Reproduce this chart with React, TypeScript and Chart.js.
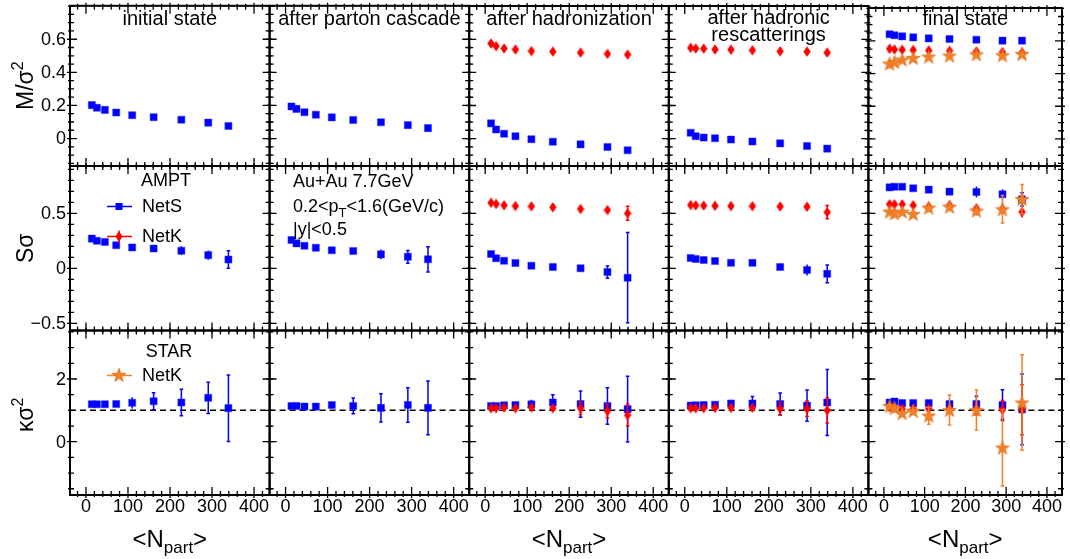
import React, { useEffect, useRef } from "react";
import { Chart, registerables } from "chart.js";

Chart.register(...registerables);

// ---------------- data ----------------
const npart = [14, 26, 45, 72, 110, 161, 227, 291, 339];
const stageTitles = [
  ["initial state"],
  ["after parton cascade"],
  ["after hadronization"],
  ["after hadronic", "rescatterings"],
  ["final state"],
];

// M/sigma^2
const mNetS = [
  [0.202, 0.186, 0.173, 0.157, 0.141, 0.129, 0.114, 0.096, 0.076],
  [0.194, 0.179, 0.159, 0.144, 0.128, 0.112, 0.098, 0.081, 0.063],
  [0.092, 0.055, 0.029, 0.014, -0.004, -0.019, -0.035, -0.051, -0.071],
  [0.035, 0.014, 0.006, 0.002, -0.006, -0.018, -0.029, -0.045, -0.061],
  [0.641, 0.635, 0.628, 0.622, 0.616, 0.612, 0.608, 0.602, 0.602],
];
const mNetSErr = [
  [0.002, 0.002, 0.002, 0.003, 0.003, 0.004, 0.005, 0.006, 0.008],
  [0.002, 0.002, 0.002, 0.003, 0.003, 0.004, 0.005, 0.006, 0.008],
  [0.002, 0.002, 0.002, 0.003, 0.003, 0.004, 0.005, 0.006, 0.008],
  [0.002, 0.002, 0.002, 0.003, 0.003, 0.004, 0.005, 0.006, 0.008],
  [0.002, 0.002, 0.002, 0.003, 0.003, 0.004, 0.005, 0.008, 0.014],
];
const mNetK = [
  null,
  null,
  [0.575, 0.559, 0.545, 0.539, 0.529, 0.526, 0.52, 0.512, 0.508],
  [0.549, 0.545, 0.544, 0.539, 0.538, 0.534, 0.528, 0.526, 0.52],
  [0.552, 0.548, 0.546, 0.545, 0.542, 0.54, 0.536, 0.532, 0.53],
];
const mNetKErr = [
  null,
  null,
  [0.006, 0.006, 0.006, 0.006, 0.006, 0.006, 0.007, 0.007, 0.008],
  [0.006, 0.006, 0.006, 0.006, 0.006, 0.006, 0.007, 0.007, 0.008],
  [0.008, 0.008, 0.008, 0.008, 0.008, 0.008, 0.009, 0.01, 0.012],
];
const mStarNetK = [0.461, 0.471, 0.486, 0.496, 0.504, 0.51, 0.518, 0.512, 0.52];
const mStarNetKErr = [0.004, 0.004, 0.005, 0.006, 0.007, 0.008, 0.01, 0.012, 0.014];

// S*sigma
const sNetS = [
  [0.27, 0.25, 0.24, 0.21, 0.19, 0.18, 0.16, 0.12, 0.08],
  [0.257, 0.227, 0.205, 0.187, 0.164, 0.157, 0.127, 0.105, 0.082],
  [0.13, 0.091, 0.069, 0.048, 0.024, 0.012, 0.0, -0.034, -0.085],
  [0.094, 0.085, 0.075, 0.066, 0.05, 0.05, 0.012, -0.015, -0.05],
  [0.736, 0.742, 0.742, 0.727, 0.715, 0.697, 0.694, 0.673, 0.627],
];
const sNetSErr = [
  [0.005, 0.006, 0.008, 0.01, 0.012, 0.016, 0.04, 0.042, 0.08],
  [0.005, 0.006, 0.008, 0.01, 0.012, 0.016, 0.044, 0.058, 0.115],
  [0.005, 0.006, 0.008, 0.01, 0.012, 0.02, 0.03, 0.056, 0.41],
  [0.005, 0.006, 0.008, 0.01, 0.012, 0.02, 0.03, 0.05, 0.08],
  [0.005, 0.006, 0.008, 0.01, 0.012, 0.02, 0.05, 0.045, 0.06],
];
const sNetK = [
  null,
  null,
  [0.596, 0.585, 0.573, 0.566, 0.564, 0.555, 0.539, 0.53, 0.5],
  [0.575, 0.572, 0.57, 0.568, 0.566, 0.565, 0.562, 0.56, 0.51],
  [0.582, 0.582, 0.582, 0.573, 0.56, 0.573, 0.545, 0.539, 0.512],
];
const sNetKErr = [
  null,
  null,
  [0.005, 0.006, 0.007, 0.008, 0.01, 0.012, 0.015, 0.02, 0.064],
  [0.005, 0.006, 0.007, 0.008, 0.01, 0.012, 0.015, 0.02, 0.06],
  [0.005, 0.006, 0.007, 0.008, 0.01, 0.012, 0.015, 0.02, 0.05],
];
const sStarNetK = [0.515, 0.5, 0.515, 0.494, 0.551, 0.56, 0.524, 0.536, 0.63];
const sStarNetKErr = [0.01, 0.01, 0.015, 0.02, 0.025, 0.035, 0.045, 0.125, 0.133];

// kappa*sigma^2
const kNetS = [
  [1.195, 1.195, 1.195, 1.2, 1.24, 1.29, 1.25, 1.4, 1.07],
  [1.14, 1.14, 1.12, 1.12, 1.17, 1.14, 1.08, 1.17, 1.08],
  [1.14, 1.14, 1.16, 1.17, 1.19, 1.25, 1.2, 1.14, 1.04],
  [1.15, 1.16, 1.17, 1.18, 1.22, 1.22, 1.2, 1.15, 1.25],
  [1.25, 1.28, 1.23, 1.23, 1.23, 1.2, 1.2, 1.17, 1.03],
];
const kNetSErr = [
  [0.02, 0.03, 0.04, 0.06, 0.18, 0.27, 0.42, 0.5, 1.06],
  [0.02, 0.03, 0.04, 0.06, 0.1, 0.25, 0.45, 0.55, 0.86],
  [0.02, 0.03, 0.04, 0.06, 0.15, 0.25, 0.42, 0.58, 1.05],
  [0.02, 0.03, 0.04, 0.06, 0.12, 0.22, 0.35, 0.5, 1.05],
  [0.02, 0.03, 0.04, 0.06, 0.1, 0.15, 0.25, 0.49, 1.13],
];
const kNetK = [
  null,
  null,
  [1.07, 1.07, 1.09, 1.07, 1.09, 1.07, 1.07, 0.98, 0.85],
  [1.07, 1.07, 1.07, 1.08, 1.08, 1.08, 1.05, 1.05, 1.0],
  [1.1, 1.1, 1.05, 1.05, 1.05, 1.05, 1.05, 1.02, 1.02],
];
const kNetKErr = [
  null,
  null,
  [0.02, 0.03, 0.04, 0.05, 0.07, 0.1, 0.2, 0.22, 0.35],
  [0.02, 0.03, 0.04, 0.05, 0.07, 0.1, 0.2, 0.25, 0.4],
  [0.02, 0.03, 0.04, 0.05, 0.07, 0.1, 0.2, 0.3, 0.8],
];
const kStarNetK = [1.14, 1.07, 0.91, 0.98, 0.83, 1.01, 1.01, -0.19, 1.25];
const kStarNetKErr = [0.05, 0.06, 0.1, 0.1, 0.27, 0.48, 0.64, 1.22, 1.52];

// tick labels
const xTickValues = [0, 100, 200, 300, 400];
const xTickLabels = ["0", "100", "200", "300", "400"];
const yTickValues = [[0, 0.2, 0.4, 0.6], [-0.5, 0, 0.5], [0, 2]];
const yTickLabels = [["0", "0.2", "0.4", "0.6"], ["\u22120.5", "0", "0.5"], ["0", "2"]];

// ---------------- layout / style ----------------
const W = 1070;
const H = 559;
const COLS = [70, 269.6, 469.2, 668.8, 868.4, 1068];
const ROWS = [1.5, 166, 330.5, 495];
const X_RANGE = [-38, 437];
const Y_RANGES = [
  [-0.166, 0.802],
  [-0.565, 0.93],
  [-1.7, 3.547],
];
const Y_MINOR = [0.05, 0.1, 0.5];
const X_MINOR = 20;
const FONT = '"Liberation Sans", Arial, Helvetica, sans-serif';
const BLUE = "#0000ff";
const RED = "#ff0000";
const ORANGE = "rgb(240,128,40)";

const rowsData = [
  { netS: mNetS, netSErr: mNetSErr, netK: mNetK, netKErr: mNetKErr, star: mStarNetK, starErr: mStarNetKErr },
  { netS: sNetS, netSErr: sNetSErr, netK: sNetK, netKErr: sNetKErr, star: sStarNetK, starErr: sStarNetKErr },
  { netS: kNetS, netSErr: kNetSErr, netK: kNetK, netKErr: kNetKErr, star: kStarNetK, starErr: kStarNetKErr },
];

function makeDiamond(color: string) {
  const c = document.createElement("canvas");
  c.width = 8;
  c.height = 11;
  const g = c.getContext("2d")!;
  g.fillStyle = color;
  g.beginPath();
  g.moveTo(4, 0.3);
  g.lineTo(7.7, 5.5);
  g.lineTo(4, 10.7);
  g.lineTo(0.3, 5.5);
  g.closePath();
  g.fill();
  return c;
}

function makeStar(color: string) {
  const c = document.createElement("canvas");
  c.width = 16;
  c.height = 16;
  const g = c.getContext("2d")!;
  g.fillStyle = color;
  g.strokeStyle = "rgba(230,110,20,0.9)";
  g.lineWidth = 0.8;
  g.beginPath();
  const cx = 8, cy = 8.6, ro = 7.3, ri = 2.9;
  for (let i = 0; i < 10; i++) {
    const r = i % 2 === 0 ? ro : ri;
    const a = -Math.PI / 2 + (i * Math.PI) / 5;
    const px = cx + r * Math.cos(a);
    const py = cy + r * Math.sin(a);
    if (i === 0) g.moveTo(px, py);
    else g.lineTo(px, py);
  }
  g.closePath();
  g.fill();
  g.stroke();
  return c;
}

function font(size: number) {
  return `${size}px ${FONT}`;
}

function drawPieces(ctx: CanvasRenderingContext2D, pieces: [string, number, number][], x: number, y: number, align: "left" | "center") {
  // pieces: [text, fontSize, baselineShift]
  let total = 0;
  for (const [t, s] of pieces) {
    ctx.font = font(s);
    total += ctx.measureText(t).width;
  }
  let cx = align === "center" ? x - total / 2 : x;
  ctx.textAlign = "left";
  ctx.textBaseline = "alphabetic";
  for (const [t, s, dy] of pieces) {
    ctx.font = font(s);
    ctx.fillText(t, cx, y + dy);
    cx += ctx.measureText(t).width;
  }
}

function makePlugin(r: number, c: number, diamond: HTMLCanvasElement, star: HTMLCanvasElement) {
  return {
    id: "panel" + r + c,
    beforeDatasetsDraw(chart: any) {
      if (r !== 2) return;
      const { ctx, chartArea: a, scales } = chart;
      const py = scales.y.getPixelForValue(1);
      ctx.save();
      ctx.strokeStyle = "#000";
      ctx.lineWidth = 1.5;
      ctx.setLineDash([6, 4]);
      ctx.beginPath();
      ctx.moveTo(a.left, py);
      ctx.lineTo(a.right, py);
      ctx.stroke();
      ctx.restore();
    },
    beforeDatasetDraw(chart: any, args: any) {
      const ds = chart.data.datasets[args.index];
      const errs: number[] = ds.errors;
      if (!errs) return;
      const { ctx, scales } = chart;
      ctx.save();
      ctx.strokeStyle = ds.errColor;
      ctx.lineWidth = 1.5;
      args.meta.data.forEach((pt: any, i: number) => {
        const v = ds.data[i].y;
        const y1 = scales.y.getPixelForValue(v + errs[i]);
        const y2 = scales.y.getPixelForValue(v - errs[i]);
        if (Math.abs(y2 - y1) < 2) return;
        ctx.beginPath();
        ctx.moveTo(pt.x, y1);
        ctx.lineTo(pt.x, y2);
        if (Math.abs(y2 - y1) > 12) {
          ctx.moveTo(pt.x - 1.8, y1);
          ctx.lineTo(pt.x + 1.8, y1);
          ctx.moveTo(pt.x - 1.8, y2);
          ctx.lineTo(pt.x + 1.8, y2);
        }
        ctx.stroke();
      });
      ctx.restore();
    },
    afterDraw(chart: any) {
      const { ctx, chartArea: a, scales } = chart;
      const sx = scales.x;
      const sy = scales.y;
      ctx.save();
      ctx.strokeStyle = "#000";
      ctx.fillStyle = "#000";
      ctx.lineWidth = 1.3;
      ctx.beginPath();
      // x ticks
      for (let v = -40; v <= 440; v += X_MINOR) {
        if (v < X_RANGE[0] || v > X_RANGE[1]) continue;
        const px = sx.getPixelForValue(v);
        const major = v % 100 === 0;
        const lin = major ? 8 : 4;
        const lout = major ? 3 : 2;
        ctx.moveTo(px, a.bottom + lout);
        ctx.lineTo(px, a.bottom - lin);
        ctx.moveTo(px, a.top - lout);
        ctx.lineTo(px, a.top + lin);
      }
      // y ticks
      const step = Y_MINOR[r];
      const [ymin, ymax] = Y_RANGES[r];
      const majors = yTickValues[r];
      for (let k = Math.ceil(ymin / step); k * step <= ymax + 1e-9; k++) {
        const v = k * step;
        const py = sy.getPixelForValue(v);
        const major = majors.some((m) => Math.abs(m - v) < 1e-6) || (r === 2 && Math.abs(v / 2 - Math.round(v / 2)) < 1e-6);
        const lin = major ? 7 : 4;
        const lout = major ? 3 : 2;
        ctx.moveTo(a.left - lout, py);
        ctx.lineTo(a.left + lin, py);
        ctx.moveTo(a.right + lout, py);
        ctx.lineTo(a.right - lin, py);
      }
      ctx.stroke();
      // frame
      ctx.lineWidth = 2;
      ctx.strokeRect(a.left, a.top, a.right - a.left, a.bottom - a.top);

      // y tick labels
      if (c === 0) {
        ctx.font = font(18);
        ctx.textAlign = "right";
        ctx.textBaseline = "middle";
        yTickValues[r].forEach((v, i) => {
          ctx.fillText(yTickLabels[r][i], a.left - 4, sy.getPixelForValue(v) + 1);
        });
        // y title
        ctx.save();
        const starts = [110, 263, 432];
        ctx.translate(32.5, starts[r]);
        ctx.rotate(-Math.PI / 2);
        if (r === 0) drawPieces(ctx, [["M/\u03c3", 23, 0], ["2", 16, -10]], 0, 0, "left");
        if (r === 1) drawPieces(ctx, [["S\u03c3", 23, 0]], 0, 0, "left");
        if (r === 2) drawPieces(ctx, [["\u03ba\u03c3", 23, 0], ["2", 16, -10]], 0, 0, "left");
        ctx.restore();
      }
      // x tick labels
      if (r === 2) {
        ctx.font = font(18);
        ctx.textAlign = "center";
        ctx.textBaseline = "middle";
        xTickValues.forEach((v, i) => {
          ctx.fillText(xTickLabels[i], sx.getPixelForValue(v), 507);
        });
        if (c % 2 === 0) {
          const cx = (a.left + a.right) / 2;
          drawPieces(ctx, [["<N", 24, 0], ["part", 17, 6], [">", 24, 0]], cx, 547, "center");
        }
      }
      // stage titles
      if (r === 0) {
        const lines = stageTitles[c];
        ctx.font = font(20);
        ctx.textAlign = "center";
        ctx.textBaseline = "middle";
        const cx = (a.left + a.right) / 2;
        if (lines.length === 1) ctx.fillText(lines[0], cx, 19);
        else {
          ctx.fillText(lines[0], cx, 18);
          ctx.fillText(lines[1], cx, 35);
        }
      }
      // legend AMPT
      if (r === 1 && c === 0) {
        ctx.font = font(18);
        ctx.textAlign = "center";
        ctx.textBaseline = "middle";
        ctx.fillText("AMPT", 166, 181.5);
        ctx.textAlign = "left";
        ctx.fillText("NetS", 142, 207);
        ctx.fillText("NetK", 142, 237);
        ctx.lineWidth = 1.5;
        ctx.strokeStyle = BLUE;
        ctx.beginPath();
        ctx.moveTo(107, 206.5);
        ctx.lineTo(132, 206.5);
        ctx.stroke();
        ctx.fillStyle = BLUE;
        ctx.fillRect(115.5, 203, 7, 7);
        ctx.strokeStyle = RED;
        ctx.beginPath();
        ctx.moveTo(107, 236.5);
        ctx.lineTo(132, 236.5);
        ctx.moveTo(119, 230.5);
        ctx.lineTo(119, 242.5);
        ctx.stroke();
        ctx.drawImage(diamond, 119 - 4, 236.5 - 5.5);
      }
      if (r === 2 && c === 0) {
        ctx.fillStyle = "#000";
        ctx.font = font(18);
        ctx.textAlign = "center";
        ctx.textBaseline = "middle";
        ctx.fillText("STAR", 169, 352);
        ctx.textAlign = "left";
        ctx.fillText("NetK", 142, 376);
        ctx.lineWidth = 1.5;
        ctx.strokeStyle = ORANGE;
        ctx.beginPath();
        ctx.moveTo(107, 375.5);
        ctx.lineTo(132, 375.5);
        ctx.stroke();
        ctx.drawImage(star, 119 - 8, 375.5 - 8.6);
      }
      if (r === 1 && c === 1) {
        ctx.fillStyle = "#000";
        ctx.font = font(18);
        ctx.textAlign = "left";
        ctx.textBaseline = "middle";
        ctx.fillText("Au+Au 7.7GeV", 293, 182);
        drawPieces(ctx, [["0.2<p", 18, 0], ["T", 13, 5], ["<1.6(GeV/c)", 18, 0]], 293, 211.5, "left");
        ctx.textBaseline = "middle";
        ctx.textAlign = "left";
        ctx.font = font(18);
        ctx.fillText("|y|<0.5", 293, 230);
      }
      ctx.restore();
    },
  };
}

function buildDatasets(r: number, c: number, diamond: HTMLCanvasElement, star: HTMLCanvasElement) {
  const row = rowsData[r];
  const ds: any[] = [];
  ds.push({
    label: "NetS",
    data: npart.map((x, i) => ({ x, y: row.netS[c][i] })),
    errors: row.netSErr[c],
    errColor: BLUE,
    pointStyle: "rect",
    pointRadius: 5,
    backgroundColor: BLUE,
    borderColor: "rgba(40,40,255,0.6)",
    borderWidth: 0.8,
    order: 3,
  });
  const nk = row.netK[c];
  if (nk) {
    ds.push({
      label: "NetK",
      data: npart.map((x, i) => ({ x, y: nk[i] })),
      errors: row.netKErr[c],
      errColor: RED,
      pointStyle: diamond,
      pointRadius: 5,
      backgroundColor: RED,
      borderColor: RED,
      order: 2,
    });
  }
  if (c === 4) {
    ds.push({
      label: "STAR NetK",
      data: npart.map((x, i) => ({ x, y: row.star[i] })),
      errors: row.starErr,
      errColor: ORANGE,
      pointStyle: star,
      pointRadius: 7,
      backgroundColor: ORANGE,
      borderColor: ORANGE,
      order: 1,
    });
  }
  return ds;
}

export default function App() {
  const refs = useRef<(HTMLCanvasElement | null)[]>([]);
  useEffect(() => {
    const diamond = makeDiamond(RED);
    const star = makeStar(ORANGE);
    const charts: Chart[] = [];
    for (let r = 0; r < 3; r++) {
      for (let c = 0; c < 5; c++) {
        const canvas = refs.current[r * 5 + c];
        if (!canvas) continue;
        const cfg: any = {
          type: "scatter",
          data: { datasets: buildDatasets(r, c, diamond, star) },
          options: {
            responsive: false,
            animation: false,
            devicePixelRatio: 1,
            events: [],
            layout: {
              padding: {
                left: COLS[c],
                right: W - COLS[c + 1],
                top: ROWS[r],
                bottom: H - ROWS[r + 1],
              },
            },
            plugins: { legend: { display: false }, tooltip: { enabled: false } },
            scales: {
              x: { type: "linear", min: X_RANGE[0], max: X_RANGE[1], display: false },
              y: { type: "linear", min: Y_RANGES[r][0], max: Y_RANGES[r][1], display: false },
            },
          },
          plugins: [makePlugin(r, c, diamond, star)],
        };
        charts.push(new Chart(canvas, cfg));
      }
    }
    return () => charts.forEach((ch) => ch.destroy());
  }, []);

  return (
    <div style={{ position: "fixed", left: 0, top: 0, width: W, height: H, background: "#fff" }}>
      {Array.from({ length: 15 }).map((_, i) => (
        <canvas
          key={i}
          ref={(el) => {
            refs.current[i] = el;
          }}
          width={W}
          height={H}
          style={{ position: "absolute", left: 0, top: 0, width: W, height: H }}
        />
      ))}
    </div>
  );
}
